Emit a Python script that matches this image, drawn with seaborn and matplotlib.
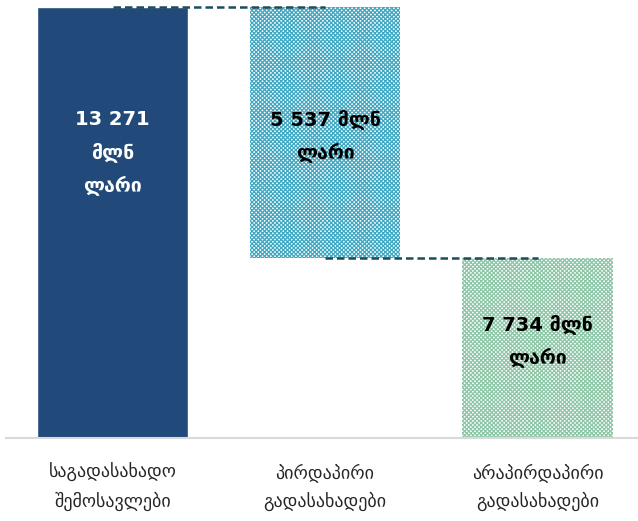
import matplotlib
matplotlib.use("Agg")
import matplotlib.pyplot as plt
import seaborn as sns
import pandas as pd

# chart data
categories = ["საგადასახადო\nშემოსავლები", "პირდაპირი\nგადასახადები", "არაპირდაპირი\nგადასახადები"]
label_values = [13271, 5537, 7734]
bar_heights = [13271, 7734, 5537]
bar_bottoms = [0, 5537, 0]
unit_text = "მლნ\nლარი"

colors = ["#214a7b", "#3ea7c2", "#8cc6a6"]
hatches = [None, "xxxxxxxx", "xxxxxxxx"]
text_colors = ["white", "black", "black"]

sns.set_theme(style="white")
plt.rcParams["font.family"] = ["DejaVu Sans"]
plt.rcParams["hatch.linewidth"] = 0.9

df = pd.DataFrame({"cat": categories, "h": bar_heights})

fig = plt.figure(figsize=(6.38, 5.21), dpi=100)
ax = fig.add_axes([6.25 / 638, 83 / 521, (638 - 6.25) / 638, 431 / 521])

sns.barplot(data=df, x="cat", y="h", hue="cat", palette=colors, width=0.71,
            legend=False, ax=ax, saturation=1)

# waterfall: shift floating bars and apply hatch fills
for patch, bottom, col, hatch in zip(ax.patches, bar_bottoms, colors, hatches):
    patch.set_y(bottom)
    if hatch:
        patch.set_facecolor("white")
        patch.set_edgecolor(col)
        patch.set_hatch(hatch)
        patch.set_linewidth(0)

# dashed connectors
top_total = bar_bottoms[0] + bar_heights[0]
ax.plot([0, 1], [top_total, top_total], ls=(0, (3, 1.6)), color="#1c4d5a", lw=1.8, clip_on=False, zorder=5)
ax.plot([1, 2], [bar_bottoms[1], bar_bottoms[1]], ls=(0, (3, 1.6)), color="#1c4d5a", lw=1.8, clip_on=False, zorder=5)

# value labels
def fmt(v):
    return f"{v:,}".replace(",", " ")

mln, lari = unit_text.split("\n")
ax.text(0, 8775, fmt(label_values[0]) + "\n" + mln + "\n" + lari,
        ha="center", va="center", color=text_colors[0], fontsize=14, fontweight="bold", linespacing=1.85)
ax.text(1, 9300, fmt(label_values[1]) + " " + mln + "\n" + lari,
        ha="center", va="center", color=text_colors[1], fontsize=14, fontweight="bold", linespacing=1.85)
ax.text(2, 2990, fmt(label_values[2]) + " " + mln + "\n" + lari,
        ha="center", va="center", color=text_colors[2], fontsize=14, fontweight="bold", linespacing=1.85)

ax.set_xlim(-0.5, (638 - 112.5) / 212.5)
ax.set_ylim(0, top_total)
ax.set_xlabel("")
ax.set_ylabel("")
ax.set_yticks([])
ax.tick_params(axis="x", length=0, labelsize=13, pad=18)
for lab in ax.get_xticklabels():
    lab.set_linespacing(1.65)
for side in ["top", "right", "left"]:
    ax.spines[side].set_visible(False)
ax.spines["bottom"].set_color("#d9d9d9")
ax.spines["bottom"].set_linewidth(1.5)

fig.savefig("out.png", dpi=100)
